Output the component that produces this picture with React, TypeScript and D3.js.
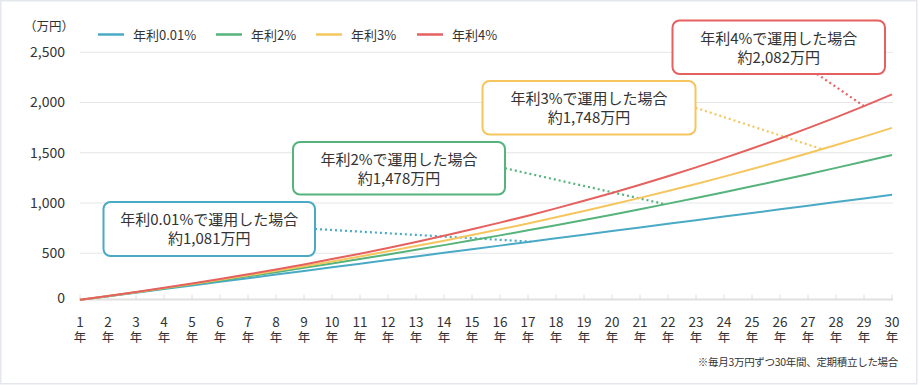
import React from 'react'
import * as d3 from 'd3'

// 積立シミュレーション（毎月3万円、30年間）
const years = [1, 2, 3, 4, 5, 6, 7, 8, 9, 10, 11, 12, 13, 14, 15, 16, 17, 18, 19, 20, 21, 22, 23, 24, 25, 26, 27, 28, 29, 30]

const rate001 = [36, 72, 108, 144, 180, 216, 252, 288, 324, 360, 396, 432, 468, 504, 540, 576, 612, 649, 685, 721, 757, 793, 829, 865, 901, 937, 973, 1009, 1046, 1082]
const rate2 = [36, 73, 111, 150, 189, 229, 270, 312, 355, 398, 443, 488, 534, 581, 629, 678, 728, 779, 831, 884, 939, 994, 1050, 1108, 1166, 1226, 1287, 1350, 1413, 1478]
const rate3 = [37, 74, 113, 153, 194, 236, 280, 325, 371, 419, 468, 519, 572, 625, 681, 738, 797, 858, 920, 985, 1051, 1120, 1190, 1263, 1338, 1415, 1495, 1577, 1661, 1748]
const rate4 = [37, 75, 115, 156, 199, 244, 290, 339, 389, 442, 496, 553, 613, 674, 738, 805, 874, 947, 1022, 1100, 1182, 1267, 1355, 1447, 1542, 1642, 1745, 1853, 1965, 2082]

const yTicks = [0, 500, 1000, 1500, 2000, 2500]
const seriesNames = ['年利0.01%', '年利2%', '年利3%', '年利4%']
const seriesColors = ['#4aaac6', '#55b37b', '#f5c65e', '#e5615f']
const seriesValues = [rate001, rate2, rate3, rate4]

const calloutTitles = ['年利0.01%で運用した場合', '年利2%で運用した場合', '年利3%で運用した場合', '年利4%で運用した場合']
const calloutAmounts = ['約1,081万円', '約1,478万円', '約1,748万円', '約2,082万円']
// 吹き出しの矢印が指す年（線上）
const calloutTargetYears = [17.1, 21.9, 27.5, 29]

const FONT = '"Noto Sans CJK JP", "Noto Sans", sans-serif'
const TEXT = '#333'

// box: x, y, w, h, and where the leader starts
const boxes = [
  { x: 103.5, y: 202, w: 211.5, h: 54, side: 'right' },
  { x: 293, y: 142, w: 212, h: 52.5, side: 'right' },
  { x: 482.5, y: 81, w: 213, h: 53.5, side: 'right' },
  { x: 672.5, y: 20.5, w: 212.5, h: 53.5, side: 'bottom' },
]

export default function App() {
  const width = 920
  const height = 385
  const axisY = 299.5

  const x = d3.scaleLinear().domain([1, 30]).range([80, 892])
  const y = d3.scaleLinear().domain([0, 2500]).range([303.5, 52.3])

  const line = d3.line<number>()
    .x((_, i) => x(years[i]))
    .y((d) => y(d))

  const valueAt = (vals: number[], yr: number) => {
    const interp = d3.scaleLinear().domain(years).range(vals)
    return interp(yr)
  }

  return (
    <div style={{ position: 'absolute', left: 0, top: 0 }}>
      <svg width={width} height={height} style={{ display: 'block', fontFamily: FONT }}>
        <rect x={0} y={0} width={width} height={height} fill="#fff" />
        <rect x={0.75} y={0.75} width={916} height={383} fill="none" stroke="#e4e7eb" strokeWidth={1.5} />

        {/* gridlines */}
        {yTicks.filter((t) => t > 0).map((t) => (
          <line key={t} x1={x(1)} x2={x(30) + 1} y1={y(t)} y2={y(t)} stroke="#e6e6e6" strokeWidth={1} />
        ))}

        {/* y labels */}
        {yTicks.map((t) => (
          <text key={t} x={65} y={t === 0 ? axisY - 1 : y(t)} dy="0.35em" textAnchor="end" fontSize={14} fill={TEXT}>
            {d3.format(',')(t)}
          </text>
        ))}
        <text x={24} y={27} dy="0.35em" fontSize={12.5} fill={TEXT}>（万円）</text>

        {/* x axis */}
        <line x1={x(1) - 1} x2={x(30) + 1} y1={axisY} y2={axisY} stroke="#e0e0e0" strokeWidth={2} />
        {years.map((yr) => (
          <g key={yr}>
            <line x1={x(yr)} x2={x(yr)} y1={axisY - 5} y2={axisY} stroke="#e0e0e0" strokeWidth={1} />
            <text x={x(yr)} y={322} dy="0.35em" textAnchor="middle" fontSize={13.5} fill={TEXT}>{yr}</text>
            <text x={x(yr)} y={337.5} dy="0.35em" textAnchor="middle" fontSize={12.5} fill={TEXT}>年</text>
          </g>
        ))}
        <text x={898} y={362} dy="0.35em" textAnchor="end" fontSize={10.5} fill={TEXT} letterSpacing={-0.3}>
          ※毎月3万円ずつ30年間、定期積立した場合
        </text>

        {/* legend */}
        {seriesNames.map((name, i) => {
          const lx = [98, 216, 316, 417][i]
          return (
            <g key={name}>
              <line x1={lx} x2={lx + 26} y1={34.5} y2={34.5} stroke={seriesColors[i]} strokeWidth={2.5} />
              <text x={lx + 35} y={35} dy="0.35em" fontSize={13} fill={TEXT}>{name}</text>
            </g>
          )
        })}

        {/* leaders (dotted) */}
        {boxes.map((b, i) => {
          const tx = x(calloutTargetYears[i])
          const ty = y(valueAt(seriesValues[i], calloutTargetYears[i]))
          const sx = b.side === 'right' ? b.x + b.w : b.x + b.w * 0.68
          const sy = b.side === 'right' ? b.y + b.h / 2 : b.y + b.h
          return (
            <line key={i} x1={sx} y1={sy} x2={tx} y2={ty}
              stroke={seriesColors[i]} strokeWidth={2.2} strokeDasharray="2 3" />
          )
        })}

        {/* series lines */}
        {seriesValues.map((vals, i) => (
          <path key={i} d={line(vals) || ''} fill="none" stroke={seriesColors[i]} strokeWidth={2} strokeLinejoin="round" />
        ))}

        {/* callout boxes */}
        {boxes.map((b, i) => (
          <g key={i}>
            <rect x={b.x} y={b.y} width={b.w} height={b.h} rx={7} ry={7}
              fill="#fff" stroke={seriesColors[i]} strokeWidth={2} />
            <text textAnchor="middle" fontSize={15} fill={TEXT}>
              <tspan x={b.x + b.w / 2} y={b.y + b.h / 2 - 9} dy="0.35em">{calloutTitles[i]}</tspan>
              <tspan x={b.x + b.w / 2} y={b.y + b.h / 2 + 10} dy="0.35em">{calloutAmounts[i]}</tspan>
            </text>
          </g>
        ))}
      </svg>
    </div>
  )
}
